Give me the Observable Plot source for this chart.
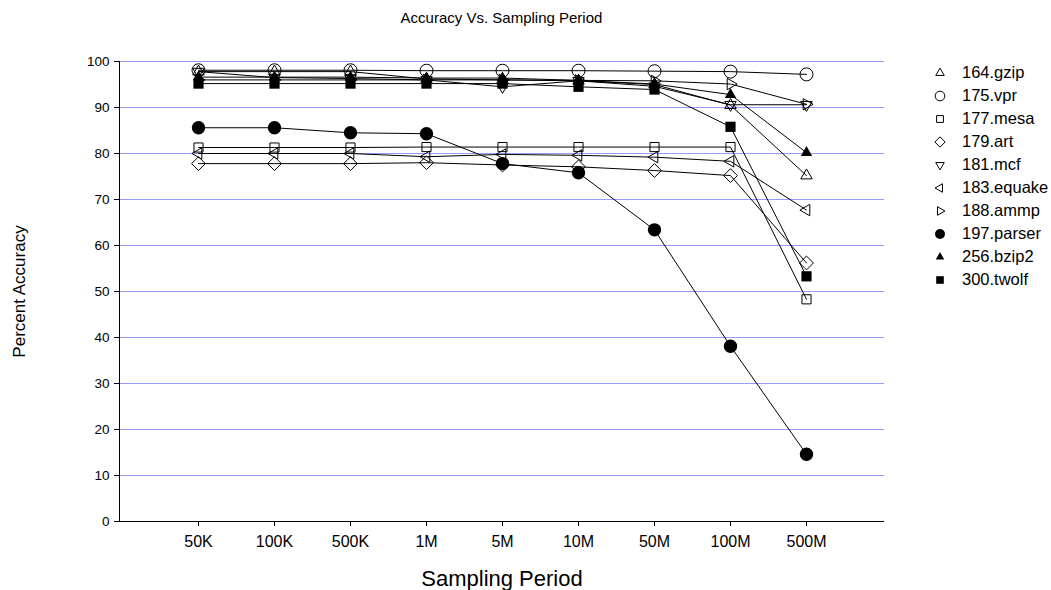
<!DOCTYPE html>
<html><head><meta charset="utf-8">
<script src="https://cdn.jsdelivr.net/npm/d3@7"></script>
<script src="https://cdn.jsdelivr.net/npm/@observablehq/plot@0.6"></script>
<style>
body{margin:0;background:#fff;font-family:"Liberation Sans",Arial,sans-serif;}
#wrap{position:relative;width:1051px;height:590px;}
#chart{position:absolute;left:0;top:0;}
#title{position:absolute;left:119px;width:765px;top:9px;text-align:center;font-size:15px;color:#000;}
#legend{position:absolute;left:932px;top:61px;font-size:16.5px;color:#000;}
.row{height:23px;display:flex;align-items:center;}
.row svg{margin-right:14px;}
</style></head><body>
<div id="wrap"><div id="chart"></div><div id="title">Accuracy Vs. Sampling Period</div><div id="legend"></div></div>
<script>
const periods = ["50K","100K","500K","1M","5M","10M","50M","100M","500M"];
const seriesNames = ["164.gzip","175.vpr","177.mesa","179.art","181.mcf","183.equake","188.ammp","197.parser","256.bzip2","300.twolf"];
const filledSeries = ["197.parser","256.bzip2","300.twolf"];
const gzip   = [97.8, 97.8, 97.8, 96.2, 96.0, 95.8, 95.0, 90.5, 75.2];
const vpr    = [98.1, 98.1, 98.1, 98.0, 98.0, 98.0, 97.9, 97.8, 97.2];
const mesa   = [81.3, 81.3, 81.3, 81.4, 81.4, 81.4, 81.4, 81.4, 48.3];
const art    = [77.8, 77.8, 77.8, 78.0, 77.5, 77.1, 76.3, 75.2, 56.2];
const mcf    = [97.8, 96.5, 96.3, 96.0, 94.5, 95.8, 94.6, 90.6, 90.6];
const equake = [80.0, 80.0, 80.0, 79.3, 79.8, 79.6, 79.2, 78.3, 67.7];
const ammp   = [96.0, 96.0, 96.0, 96.0, 96.0, 95.9, 95.8, 95.1, 90.7];
const parser = [85.6, 85.6, 84.5, 84.3, 77.8, 75.8, 63.4, 38.1, 14.6];
const bzip2  = [96.6, 96.6, 96.6, 96.4, 96.4, 95.9, 95.1, 92.8, 80.2];
const twolf  = [95.2, 95.2, 95.2, 95.2, 95.2, 94.5, 93.9, 85.8, 53.3];
const seriesValues = [gzip, vpr, mesa, art, mcf, equake, ammp, parser, bzip2, twolf];
const yTicks = [0, 10, 20, 30, 40, 50, 60, 70, 80, 90, 100];

const data = seriesNames.flatMap((s, i) => periods.map((p, j) => ({series: s, period: p, value: seriesValues[i][j]})));

function tri(angle) {
  return {draw(ctx, size) {
    const R = Math.sqrt(size / Math.PI) * 1.1;
    for (let k = 0; k < 3; k++) {
      const a = angle + k * 2 * Math.PI / 3;
      const px = R * Math.cos(a), py = R * Math.sin(a);
      k === 0 ? ctx.moveTo(px, py) : ctx.lineTo(px, py);
    }
    ctx.closePath();
  }};
}
const circleOpen = {draw(ctx, size){ const r = Math.sqrt(size/Math.PI)*1.08; ctx.moveTo(r,0); ctx.arc(0,0,r,0,2*Math.PI); }};
const circleFilled = {draw(ctx, size){ const r = Math.sqrt(size/Math.PI)*1.12; ctx.moveTo(r,0); ctx.arc(0,0,r,0,2*Math.PI); }};
const square = {draw(ctx, size){ const h = Math.sqrt(size/Math.PI)*0.76; ctx.rect(-h,-h,2*h,2*h); }};
const squareFilled = {draw(ctx, size){ const h = Math.sqrt(size/Math.PI)*0.85; ctx.rect(-h,-h,2*h,2*h); }};
const diamond = {draw(ctx, size){ const h = Math.sqrt(size/Math.PI)*1.15; ctx.moveTo(0,-h); ctx.lineTo(h,0); ctx.lineTo(0,h); ctx.lineTo(-h,0); ctx.closePath(); }};
const up = tri(-Math.PI/2), down = tri(Math.PI/2), left = tri(Math.PI), right = tri(0);
const symbolRange = [up, circleOpen, square, diamond, down, left, right, circleFilled, up, squareFilled];

const isFilled = d => filledSeries.includes(d.series);

const chart = Plot.plot({
  width: 1051, height: 590,
  marginLeft: 119, marginRight: 167, marginTop: 61, marginBottom: 69,
  style: {fontFamily: '"Liberation Sans", Arial, sans-serif', background: "transparent"},
  x: {type: "point", domain: periods, padding: 1},
  y: {domain: [0, 100]},
  symbol: {domain: seriesNames, range: symbolRange},
  marks: [
    Plot.ruleY(yTicks.filter(v => v > 0), {stroke: "#9999ff", strokeWidth: 1}),
    Plot.frame({anchor: "left", stroke: "black", shapeRendering: "crispEdges"}),
    Plot.ruleY([0], {stroke: "black", shapeRendering: "crispEdges"}),
    Plot.axisY({ticks: yTicks, tickSize: 5, tickPadding: 5, fontSize: 13.5,
      label: "Percent Accuracy", labelAnchor: "center", labelArrow: "none", labelOffset: 107}),
    Plot.axisX({tickSize: 5, tickPadding: 9, fontSize: 16,
      label: "Sampling Period", labelAnchor: "center", labelArrow: "none", labelOffset: 64}),
    Plot.line(data, {x: "period", y: "value", z: "series", stroke: "black", strokeWidth: 1}),
    Plot.dot(data.filter(d => !isFilled(d)), {x: "period", y: "value", symbol: "series", r: 6, fill: "none", stroke: "black", strokeWidth: 1}),
    Plot.dot(data.filter(isFilled), {x: "period", y: "value", symbol: "series", r: 6, fill: "black", stroke: "none"})
  ]
});
chart.querySelectorAll('g[aria-label="y-axis label"] text').forEach(t => t.setAttribute("font-size", 17));
chart.querySelectorAll('g[aria-label="x-axis label"] text').forEach(t => t.setAttribute("font-size", 22));
document.getElementById("chart").appendChild(chart);

const legend = document.getElementById("legend");
seriesNames.forEach((s, i) => {
  const p = d3.path();
  symbolRange[i].draw(p, Math.PI * 20);
  const filled = filledSeries.includes(s);
  const row = document.createElement("div");
  row.className = "row";
  row.innerHTML = `<svg width="16" height="16" viewBox="-8 -8 16 16"><path d="${p.toString()}" fill="${filled ? "black" : "none"}" stroke="${filled ? "none" : "black"}" stroke-width="1"></path></svg><span>${s}</span>`;
  legend.appendChild(row);
});
</script>
</body></html>
